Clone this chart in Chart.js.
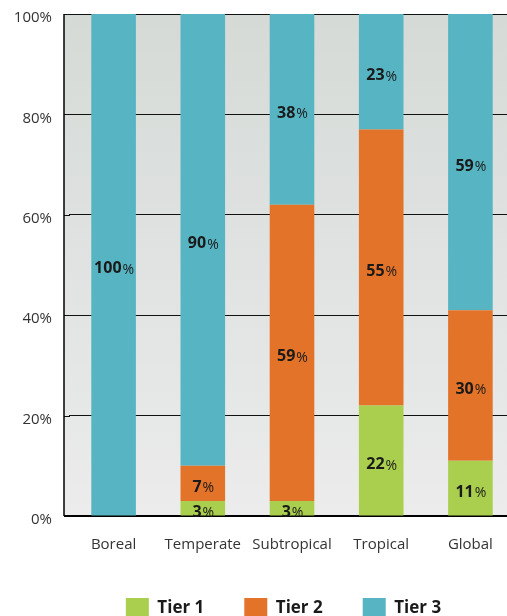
<!DOCTYPE html>
<html>
<head>
<meta charset="utf-8">
<script src="https://cdn.jsdelivr.net/npm/chart.js@4.4.0/dist/chart.umd.min.js"></script>
<style>
  html, body { margin: 0; padding: 0; background: #fff; overflow: hidden; }
  #wrap { width: 515px; height: 628px; position: relative; }
</style>
</head>
<body>
<div id="wrap"><canvas id="myChart"></canvas></div>
<script>
    // categories and tier shares (percent)
    const regions = ['Boreal', 'Temperate', 'Subtropical', 'Tropical', 'Global'];
    const tier1 = [0, 3, 3, 22, 11];
    const tier2 = [0, 7, 59, 55, 30];
    const tier3 = [100, 90, 38, 23, 59];
    const yTicks = [0, 20, 40, 60, 80, 100];

    const FONT = "'Open Sans', 'Noto Sans', sans-serif";
    const AXIS_SHIFT = 5; // axis line sits a little left of the first category slot

    const bgPlugin = {
        id: 'bgPlugin',
        afterLayout(chart) {
            // legend is centred under the plot, not the whole canvas
            const lg = chart.legend;
            lg.left += 26;
            lg.right += 26;
        },
        beforeDraw(chart) {
            const a = chart.chartArea;
            const ctx = chart.ctx;
            const g = ctx.createLinearGradient(0, a.top, 0, a.bottom);
            g.addColorStop(0, '#d5dad7');
            g.addColorStop(1, '#ebeceb');
            ctx.save();
            ctx.fillStyle = g;
            ctx.fillRect(a.left - AXIS_SHIFT, a.top, a.right - a.left + AXIS_SHIFT, a.bottom - a.top);
            ctx.restore();
        },
        beforeDatasetsDraw(chart) {
            const a = chart.chartArea;
            const ctx = chart.ctx;
            const y = chart.scales.y;
            const x0 = a.left - AXIS_SHIFT;
            ctx.save();
            ctx.strokeStyle = '#111';
            ctx.lineWidth = 1;
            y.ticks.forEach(t => {
                const py = Math.round(y.getPixelForValue(t.value)) + 0.5;
                ctx.beginPath();
                ctx.moveTo(x0, py);
                ctx.lineTo(a.left + 1, py);
                ctx.stroke();
            });
            ctx.strokeStyle = '#000';
            ctx.lineWidth = 1.5;
            ctx.beginPath();
            ctx.moveTo(x0, a.top);
            ctx.lineTo(x0, a.bottom);
            ctx.stroke();
            ctx.lineWidth = 2;
            ctx.beginPath();
            ctx.moveTo(x0, a.bottom);
            ctx.lineTo(a.left + 1, a.bottom);
            ctx.stroke();
            ctx.restore();
        }
    };

    const valueLabels = {
        id: 'valueLabels',
        afterDatasetsDraw(chart) {
            const ctx = chart.ctx;
            ctx.save();
            ctx.textBaseline = 'middle';
            ctx.textAlign = 'left';
            ctx.fillStyle = '#1a1a1a';
            chart.data.datasets.forEach((ds, i) => {
                const meta = chart.getDatasetMeta(i);
                meta.data.forEach((bar, j) => {
                    const v = ds.data[j];
                    if (!v) return;
                    const y = (bar.y + bar.base) / 2 + 4;
                    const num = String(v);
                    ctx.font = 'bold 16px ' + FONT;
                    const w1 = ctx.measureText(num).width;
                    ctx.font = '14px ' + FONT;
                    const w2 = ctx.measureText('%').width;
                    const x0 = bar.x - (w1 + w2) / 2;
                    ctx.font = 'bold 16px ' + FONT;
                    ctx.fillText(num, x0, y);
                    ctx.font = '14px ' + FONT;
                    ctx.fillText('%', x0 + w1 + 1, y + 1);
                });
            });
            ctx.restore();
        }
    };

    const ctx = document.getElementById('myChart').getContext('2d');
    const myChart = new Chart(ctx, {
        type: 'bar',
        data: {
            labels: regions,
            datasets: [{
                label: 'Tier 1',
                data: tier1,
                backgroundColor: '#aacf4f',
                barPercentage: 0.5,
                categoryPercentage: 1
            }, {
                label: 'Tier 2',
                data: tier2,
                backgroundColor: '#e37329',
                barPercentage: 0.5,
                categoryPercentage: 1
            }, {
                label: 'Tier 3',
                data: tier3,
                backgroundColor: '#57b4c2',
                barPercentage: 0.5,
                categoryPercentage: 1
            }]
        },
        options: {
            responsive: true,
            maintainAspectRatio: false,
            animation: false,
            layout: { padding: { top: 14, right: 0 } },
            plugins: {
                tooltip: { enabled: false },
                legend: {
                    position: 'bottom',
                    labels: {
                        boxWidth: 23,
                        boxHeight: 20,
                        padding: 40,
                        color: '#1a1a1a',
                        font: { family: FONT, size: 17, weight: 'bold' }
                    }
                }
            },
            scales: {
                x: {
                    stacked: true,
                    grid: { display: false, drawTicks: false },
                    border: { color: '#000', width: 2 },
                    ticks: { color: '#333', padding: 20, font: { family: FONT, size: 15 } },
                    afterFit(scale) { scale.height = 42; }
                },
                y: {
                    stacked: true,
                    min: 0,
                    max: 100,
                    afterBuildTicks(scale) { scale.ticks = yTicks.map(v => ({ value: v })); },
                    grid: { color: '#111', lineWidth: 1, drawTicks: false },
                    border: { display: false },
                    ticks: {
                        color: '#333',
                        padding: 17,
                        labelOffset: 4,
                        font: { family: FONT, size: 15 },
                        callback: v => v + '%'
                    },
                    afterFit(scale) {
                        scale.width = 69;
                        scale.paddingTop = 0;
                        scale.paddingBottom = 0;
                    }
                }
            }
        },
        plugins: [bgPlugin, valueLabels]
    });
</script>
</body>
</html>
